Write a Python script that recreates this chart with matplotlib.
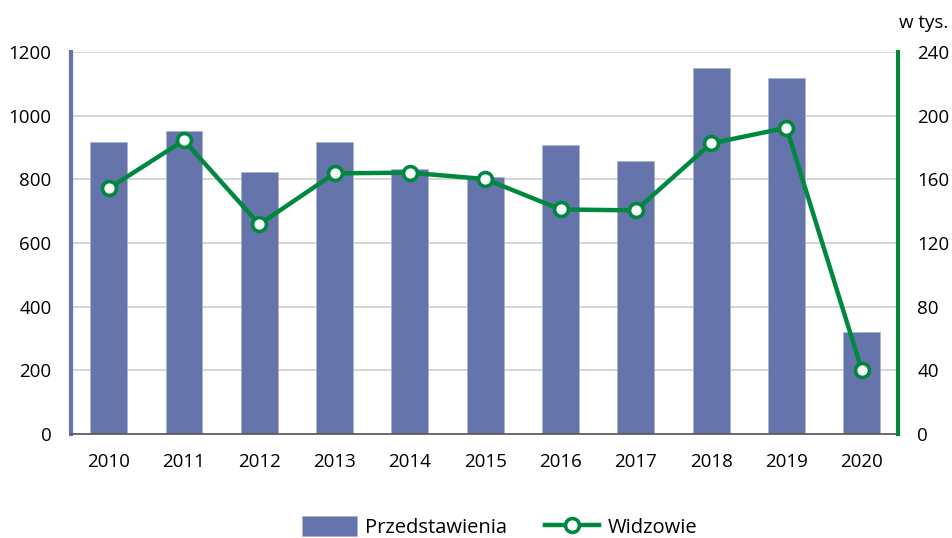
import numpy as np
import matplotlib.pyplot as plt

plt.rcParams['font.family'] = ['Open Sans', 'DejaVu Sans']

# data
years = ['2010', '2011', '2012', '2013', '2014', '2015', '2016', '2017', '2018', '2019', '2020']
przedstawienia = [918, 951, 823, 917, 833, 806, 909, 859, 1151, 1117, 321]
widzowie = [154.3, 184.5, 131.7, 163.8, 164.2, 160.2, 141.1, 140.5, 182.6, 192.4, 40.2]

bar_col = '#6574ab'
line_col = '#00883e'

fig = plt.figure(figsize=(9.52, 5.38), dpi=100)
ax = fig.add_axes([0.0746, 0.1933, 0.8686, 0.71])
x = np.arange(len(years))

ax.bar(x, przedstawienia, width=0.49, color=bar_col, edgecolor='#a9b2d2', linewidth=0.6,
       zorder=2, label='Przedstawienia')
ax.set_ylim(0, 1200)
ax.set_yticks(np.arange(0, 1201, 200))
ax.set_xlim(-0.5, len(years) - 0.52)
ax.set_xticks(x)
ax.set_xticklabels(years)
ax.grid(axis='y', color='#d0d0d0', linewidth=1.2, zorder=0)
ax.tick_params(axis='both', length=0, labelsize=13.5, pad=14)
ax.tick_params(axis='x', pad=14)
for s in ['top', 'right']:
    ax.spines[s].set_visible(False)
ax.spines['left'].set_color(bar_col)
ax.spines['left'].set_linewidth(3)
ax.spines['bottom'].set_color('#555555')
ax.spines['bottom'].set_linewidth(1.2)

ax2 = ax.twinx()
ax2.plot(x, widzowie, color=line_col, linewidth=3.2, marker='o', markersize=10,
         markerfacecolor='white', markeredgecolor=line_col, markeredgewidth=2.6,
         zorder=3, label='Widzowie')
ax2.set_ylim(0, 240)
ax2.set_yticks(np.arange(0, 241, 40))
ax2.tick_params(axis='y', length=0, labelsize=13.5, pad=14)
for s in ['top', 'left', 'bottom']:
    ax2.spines[s].set_visible(False)
ax2.spines['right'].set_color(line_col)
ax2.spines['right'].set_linewidth(3)

fig.text(0.944, 0.957, 'w tys.', fontsize=13.5, ha='left', va='center')

h1, l1 = ax.get_legend_handles_labels()
h2, l2 = ax2.get_legend_handles_labels()
fig.legend(h1 + h2, l1 + l2, loc='center', bbox_to_anchor=(0.525, 0.02), ncol=2,
           frameon=False, fontsize=14.5, handlelength=2.7, handleheight=1.15,
           columnspacing=1.9, handletextpad=0.4, borderpad=0.1)

fig.savefig('out.png', dpi=100)
